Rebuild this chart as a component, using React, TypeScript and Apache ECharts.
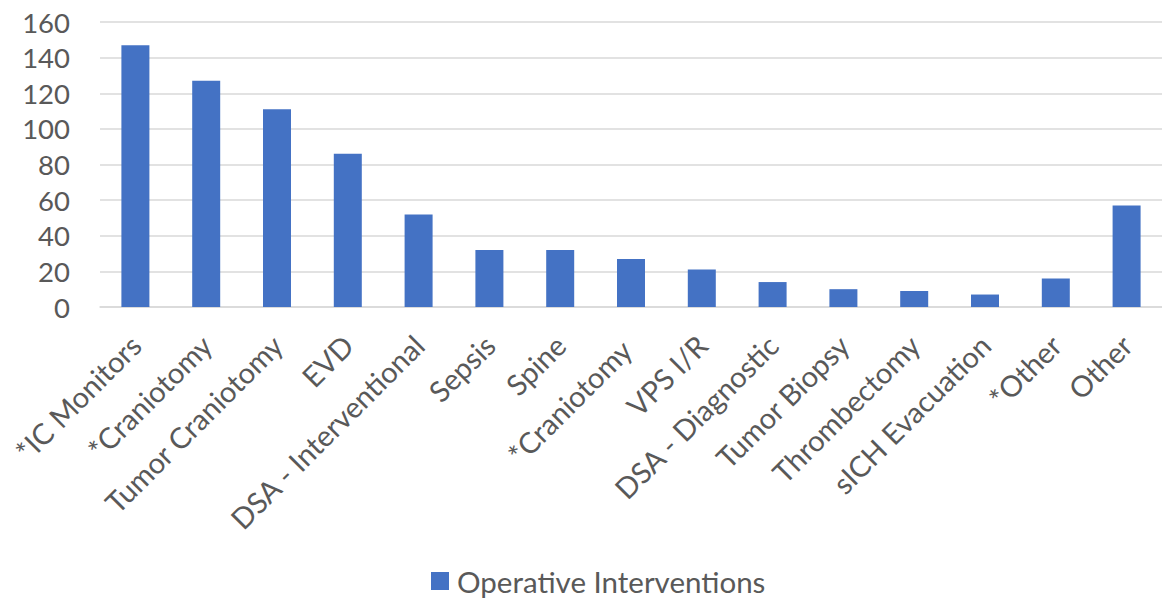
import React, { useEffect, useRef } from "react";
import * as echarts from "echarts";

const categories = [
  "*IC Monitors",
  "*Craniotomy",
  "Tumor Craniotomy",
  "EVD",
  "DSA - Interventional",
  "Sepsis",
  "Spine",
  "*Craniotomy ",
  "VPS I/R",
  "DSA - Diagnostic",
  "Tumor Biopsy",
  "Thrombectomy",
  "sICH Evacuation",
  "*Other",
  "Other",
];
const values = [147, 127, 111, 86, 52, 32, 32, 27, 21, 14, 10, 9, 7, 16, 57];
const seriesName = "Operative Interventions";

const FONT = "Lato, 'Noto Sans', sans-serif";
const TEXT = "#595959";

export default function App() {
  const ref = useRef<HTMLDivElement>(null);
  useEffect(() => {
    if (!ref.current) return;
    const chart = echarts.init(ref.current, undefined, { renderer: "svg" });
    chart.setOption({
      animation: false,
      backgroundColor: "#ffffff",
      grid: { left: 100, right: 0, top: 22, bottom: 294, containLabel: false },
      legend: {
        data: [seriesName],
        top: 561,
        left: 426,
        icon: "rect",
        itemWidth: 18,
        itemHeight: 18,
        itemGap: 8,
        textStyle: {
          color: TEXT,
          fontSize: 29.5,
          lineHeight: 30,
          fontFamily: FONT,
          padding: [0, 0, 0, 3],
        },
      },
      xAxis: {
        type: "category",
        data: categories,
        axisLine: { show: true, lineStyle: { color: "#D9D9D9", width: 1.5 } },
        axisTick: { show: false },
        axisLabel: {
          interval: 0,
          rotate: 45,
          margin: 33,
          color: TEXT,
          fontSize: 29,
          fontFamily: FONT,
        },
      },
      yAxis: {
        type: "value",
        min: 0,
        max: 160,
        interval: 20,
        axisLine: { show: false },
        axisTick: { show: false },
        splitLine: { lineStyle: { color: "#D9D9D9", width: 1.5 } },
        axisLabel: { margin: 30, color: TEXT, fontSize: 27.5, fontFamily: FONT },
      },
      series: [
        {
          name: seriesName,
          type: "bar",
          data: values,
          barWidth: 28,
          itemStyle: { color: "#4472C4" },
        },
      ],
    });
    return () => chart.dispose();
  }, []);
  return (
    <div
      ref={ref}
      style={{ position: "fixed", left: 0, top: 0, width: 1162, height: 601 }}
    />
  );
}
